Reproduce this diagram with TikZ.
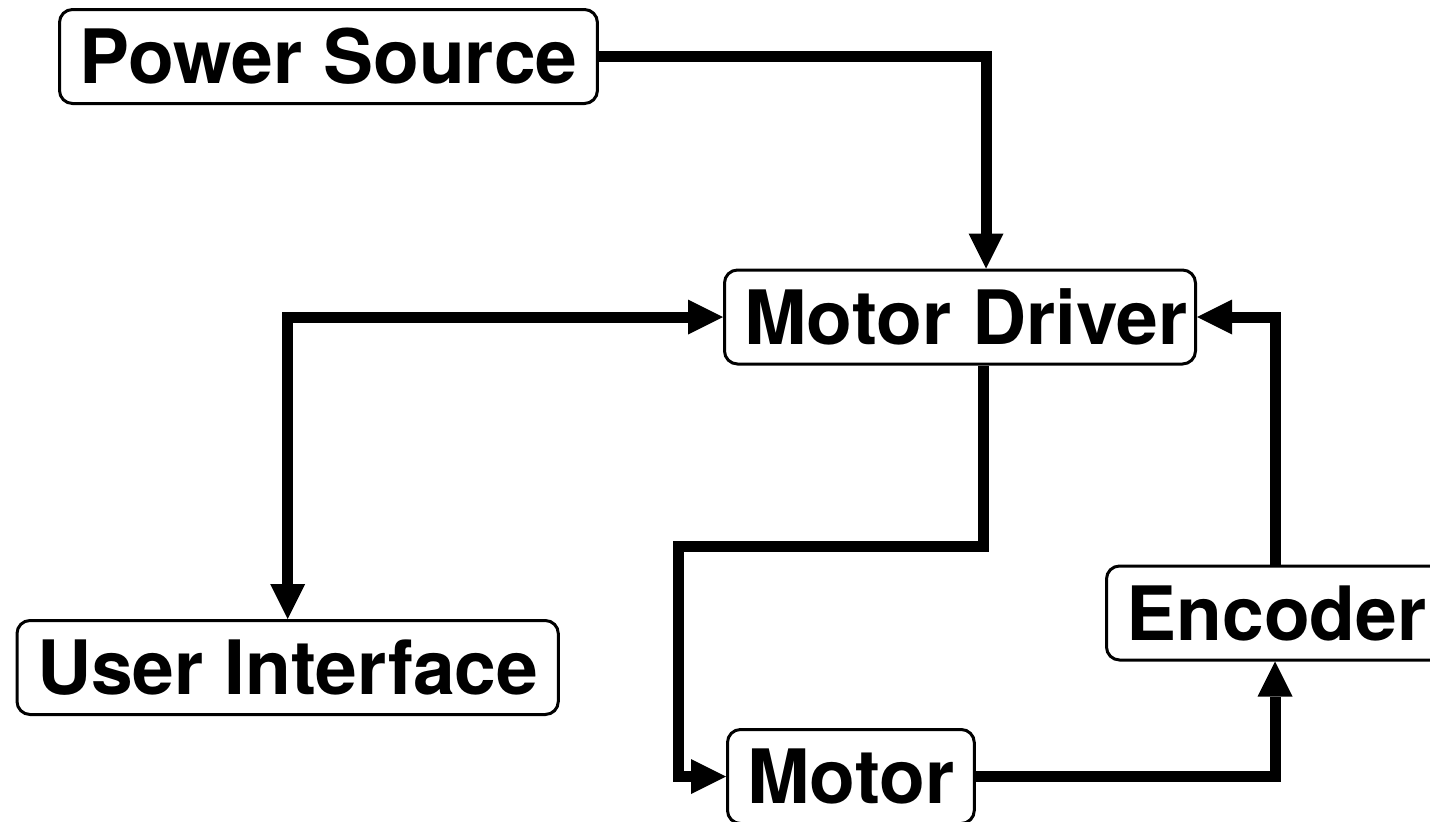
\documentclass[tikz,border=0pt]{standalone}
\usepackage{fontspec}
\setmainfont{TeX Gyre Heros}
\usetikzlibrary{arrows.meta}
\begin{document}
\begin{tikzpicture}[x=1pt,y=-1pt,
  box/.style={draw, line width=3pt, rounded corners=13pt, inner xsep=20pt, inner ysep=0pt,
    minimum height=94pt, font=\fontsize{75}{80}\selectfont\bfseries,
    text height=54pt, text depth=0pt, anchor=west},
  conn/.style={line width=11pt},
  >={Triangle[length=35pt,width=35pt,line width=0pt]}]
\useasboundingbox (0,0) rectangle (1430,822);
\fill[white] (0,0) rectangle (1430,822);
\node[box] (ps)  at (58,56.5)   {Power Source};
\node[box] (md)  at (723,317)   {\makebox[431pt][l]{Motor Driver}};
\node[box] (ui)  at (15.5,667.5) {User Interface};
\node[box] (enc) at (1105,613)  {Encoder};
\node[box] (mot) at (726,776.5) {Motor};
\coordinate (pd) at (986,0);
\coordinate (ms) at (983,0);
\coordinate (k)  at (678,546);
\coordinate (ex) at (1275,0);
\draw[conn,->] (ps.east) -| (md.north -| pd);
\draw[conn,<->] (ui.north) |- (md.west);
\draw[conn,->] (md.south -| ms) |- (k) |- (mot.west);
\draw[conn,->] (mot.east) -| (enc.south -| ex);
\draw[conn,->] (enc.north -| ex) |- (md.east);
\end{tikzpicture}
\end{document}
